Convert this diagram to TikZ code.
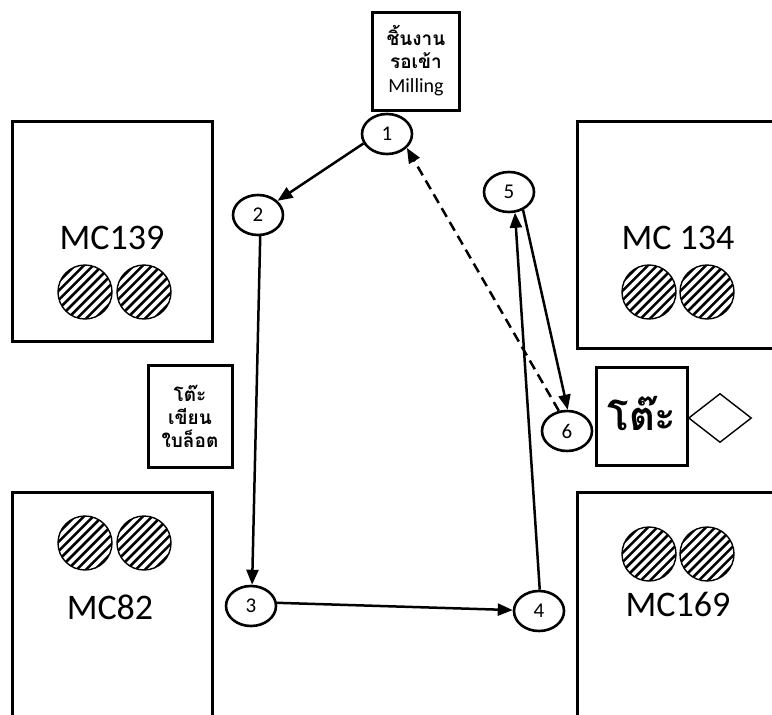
\documentclass[tikz,border=0pt]{standalone}
\usepackage{fontspec}
\setmainfont{Carlito}
\newfontfamily\thai[Script=Thai]{Loma}
\usetikzlibrary{shapes.geometric,arrows.meta}
\begin{document}
\begin{tikzpicture}[x=1pt,y=-1pt,
  box/.style={draw,line width=3pt},
  stn/.style={draw,ellipse,line width=2.6pt,minimum width=50pt,minimum height=40pt,inner sep=0pt,font=\fontsize{21}{21}\selectfont},
  mclabel/.style={font=\fontsize{36}{36}\selectfont},
  flow/.style={line width=2.5pt,-{Triangle[length=15pt,width=12pt]}},
  thaitext/.style={font=\thai\bfseries\fontsize{19}{23}\selectfont,align=center,inner sep=1pt}]
\useasboundingbox (0,0) rectangle (772,715);
\begin{scope}
\clip (0,0) rectangle (772,715);
% machines
\draw[box] (12,121) rectangle (212,341);
\draw[box] (780,121) -- (577,121) -- (577,348) -- (780,348);
\draw[box] (12,730) -- (12,492) -- (212,492) -- (212,730);
\draw[box] (780,492) -- (577,492) -- (577,730);
\end{scope}
\node[mclabel] (mc139) at (112,238) {MC139};
\node[mclabel] (mc134) at (678,238) {MC 134};
\node[mclabel] (mc82) at (110,607) {MC82};
\node[mclabel] (mc169) at (678,604) {MC169};
\foreach \cx/\cy in {85/292,144/292,649/292,707/292,85/543,144/543,649/554,707/554}{
  \begin{scope}
    \clip (\cx,\cy) circle[radius=27];
    \foreach \k in {-5,...,5}
      \draw[line width=2.6pt] ({\cx-40+\k*9.2},{\cy+40}) -- ++(80,-80);
  \end{scope}
  \draw[line width=1.4pt] (\cx,\cy) circle[radius=27];
}
% boxes
\node[box,minimum width=87pt,minimum height=98pt,thaitext] (wait) at (416,61) {ชิ้นงาน\\รอเข้า\\[1pt]{\normalfont\fontsize{20}{21}\selectfont Milling}};
\node[box,minimum width=84pt,minimum height=102pt,thaitext] (lot) at (190,416) {โต๊ะ\\เขียน\\ใบล็อต};
\node[box,minimum width=91pt,minimum height=98pt] (tbl) at (642,416) {};
\node[font=\thai\bfseries\fontsize{40}{40}\selectfont] (tbltxt) at (642,414) {โต๊ะ};
\node[draw,diamond,line width=1.4pt,minimum width=63pt,minimum height=49pt,inner sep=0pt,aspect=1.3] (dia) at (720,418) {};
% stations
\node[stn] (n1) at (387,134) {1};
\node[stn] (n2) at (258,215) {2};
\node[stn] (n3) at (251,606) {3};
\node[stn] (n4) at (539,611) {4};
\node[stn] (n5) at (509,192) {5};
\node[stn] (n6) at (567,431) {6};
% flows
\draw[flow] (n1.202) -- (n2.36);
\draw[flow] (n2.-84) -- (n3.87);
\draw[flow] (n3.7) -- (n4.178);
\draw[flow] (n4.88) -- (n5.-74);
\draw[flow] (n5.-52) -- (n6.88);
\draw[flow,dash pattern=on 10pt off 6pt] (n6.112) -- (n1.-35);
\end{tikzpicture}
\end{document}
